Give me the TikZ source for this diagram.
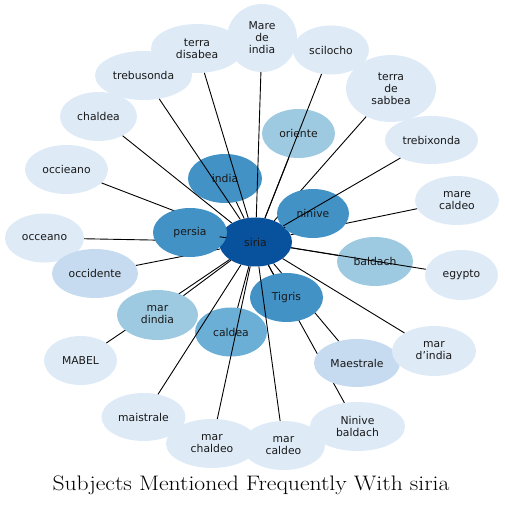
\documentclass[tikz,border=0pt]{standalone}
\usepackage{fontspec}
\usepackage{graphicx}
\newfontfamily\lbl{DejaVu Sans}
\usetikzlibrary{shapes.geometric}
\definecolor{c1}{HTML}{08519C}
\definecolor{c4}{HTML}{4292C6}
\definecolor{c6}{HTML}{6BAED6}
\definecolor{c9}{HTML}{9ECAE1}
\definecolor{cc}{HTML}{C6DBEF}
\definecolor{cd}{HTML}{DEEBF7}
\tikzset{
  bub/.style={ellipse, draw=none, inner sep=0pt, align=center, text=black!90,
    font=\lbl\fontsize{10.8}{12}\selectfont},
  sz/.style 2 args={minimum width=#1pt, minimum height=#2pt},
  edge/.style={draw=black, line width=0.9pt}
}
\begin{document}
\begin{tikzpicture}[x=1pt,y=1pt]
\useasboundingbox (0,0) rectangle (504,506);
\node[bub, fill=c1, sz={73}{49}] (siria) at (255.5,264) {siria};
% left group under persia
\node[bub, fill=cd, sz={79}{49}] (occeano) at (44.5,268) {occeano};
\draw[edge] (siria) -- (occeano);
\node[bub, fill=cd, sz={83}{49}] (occieano) at (66.5,336.5) {occieano};
\draw[edge] (siria) -- (occieano);
\node[bub, fill=cc, sz={86}{49}] (occidente) at (95,232.5) {occidente};
\draw[edge] (siria) -- (occidente);
\node[bub, fill=c4, sz={74}{49}] (persia) at (190,273.5) {persia};
\draw[edge] (siria) -- (persia);
% top
\node[bub, fill=c4, sz={74}{49}] (india) at (225,327.5) {india};
\draw[edge] (siria) -- (india);
\node[bub, fill=cd, sz={92}{49}] (disabea) at (197,457.5) {terra\\disabea};
\draw[edge] (siria) -- (disabea);
\node[bub, fill=cd, sz={97}{49}] (trebusonda) at (143.5,430.5) {trebusonda};
\draw[edge] (siria) -- (trebusonda);
\node[bub, fill=cd, sz={77}{49}] (chaldea) at (98.5,389.5) {chaldea};
\draw[edge] (siria) -- (chaldea);
\node[bub, fill=cd, sz={70}{68}] (mareindia) at (262,468) {Mare\\de\\india};
\draw[edge] (siria) -- (mareindia);
\node[bub, fill=c9, sz={73}{49}] (oriente) at (298.5,372.5) {oriente};
\draw[edge] (siria) -- (oriente);
\node[bub, fill=cd, sz={76}{49}] (scilocho) at (331,456) {scilocho};
\draw[edge] (siria) -- (scilocho);
\node[bub, fill=cd, sz={90}{67}] (sabbea) at (391,417.5) {terra\\de\\sabbea};
\draw[edge] (siria) -- (sabbea);
% right
\node[bub, fill=cd, sz={84}{49}] (marecaldeo) at (457,305.5) {mare\\caldeo};
\draw[edge] (siria) -- (marecaldeo);
\node[bub, fill=c4, sz={72}{49}] (ninive) at (313,292.5) {ninive};
\draw[edge] (siria) -- (ninive);
\node[bub, fill=cd, sz={93}{48}] (trebixonda) at (431.5,366) {trebixonda};
\draw[edge] (siria) -- (trebixonda);
\node[bub, fill=c9, sz={76}{49}] (baldach) at (375,244.5) {baldach};
\draw[edge] (siria) -- (baldach);
\node[bub, fill=cd, sz={73}{50}] (egypto) at (461.5,231) {egypto};
\draw[edge] (siria) -- (egypto);
% lower left
\node[bub, fill=cd, sz={73}{49}] (mabel) at (80.5,145.5) {MABEL};
\draw[edge] (siria) -- (mabel);
\node[bub, fill=c9, sz={81}{50}] (mardindia) at (157.5,191) {mar\\dindia};
\draw[edge] (siria) -- (mardindia);
% lower right
\node[bub, fill=cd, sz={95}{49}] (ninivebaldach) at (357.5,79.5) {Ninive\\baldach};
\draw[edge] (siria) -- (ninivebaldach);
\node[bub, fill=cc, sz={86}{48}] (maestrale) at (357,143) {Maestrale};
\draw[edge] (siria) -- (maestrale);
\node[bub, fill=c4, sz={73}{49}] (tigris) at (286.5,208.5) {Tigris};
\draw[edge] (siria) -- (tigris);
\node[bub, fill=cd, sz={84}{50}] (mardindia2) at (434,155) {mar\\d’india};
\draw[edge] (siria) -- (mardindia2);
% bottom
\node[bub, fill=c6, sz={72}{49}] (caldea) at (231,174) {caldea};
\draw[edge] (siria) -- (caldea);
\node[bub, fill=cd, sz={84}{48}] (maistrale) at (143.5,89) {maistrale};
\draw[edge] (siria) -- (maistrale);
\node[bub, fill=cd, sz={92}{49}] (marchaldeo) at (212,62.5) {mar\\chaldeo};
\draw[edge] (siria) -- (marchaldeo);
\node[bub, fill=cd, sz={83}{49}] (marcaldeo) at (283.5,60.5) {mar\\caldeo};
\draw[edge] (siria) -- (marcaldeo);
% title
\node[anchor=base, inner sep=0pt, font=\fontsize{21}{25}\selectfont] (title) at (251,16) {\scalebox{1.125}[1]{Subjects Mentioned Frequently With siria}};
\end{tikzpicture}
\end{document}
